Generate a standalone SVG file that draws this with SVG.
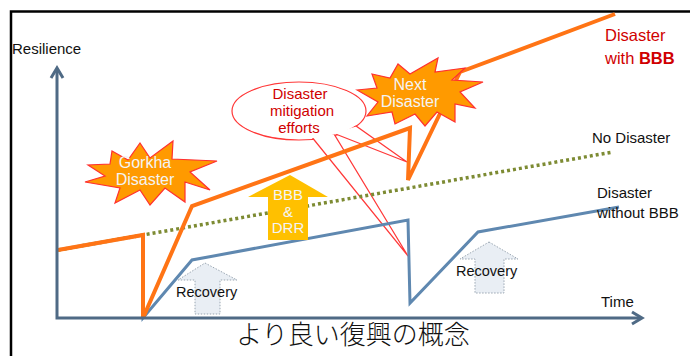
<svg xmlns="http://www.w3.org/2000/svg" width="690" height="356" viewBox="0 0 690 356">
<style>
.lbl{font-family:"Liberation Sans",Arial,sans-serif;font-size:15px;fill:#111}
.red{fill:#D00000}
.wt{font-family:"Liberation Sans",Arial,sans-serif;font-size:15px;fill:#F4F4F4;text-anchor:middle}
.big{font-size:16px}
.rl{font-size:16.5px}
.rc{font-size:14.5px}
.ctr{text-anchor:middle}
.axis{fill:none;stroke:#4F6A85;stroke-width:3;stroke-linejoin:miter}
.star{fill:#FF9A00;stroke:#FF3030;stroke-width:1.2;stroke-linejoin:miter}
.rec{fill:#E9EEF4;stroke:#9AA6B2;stroke-width:1;stroke-dasharray:1.5 1.5}
.callout{fill:#FFFFFF;stroke:#FF3838;stroke-width:1.2}
</style>
<rect x="0" y="0" width="690" height="356" fill="#FFFFFF"/>
<g id="frame" fill="none" stroke="#000" stroke-width="2.5">
  <polyline points="11,356 11,11.5 690,11.5"/>
</g>
<g id="callout">
  <ellipse class="callout" cx="299" cy="111" rx="67" ry="29"/>
  <polygon class="callout" points="333,133 407,162 356,126"/>
  <polygon class="callout" points="311,136 408,256 334,134"/>
  <ellipse cx="299" cy="111" rx="65.8" ry="27.8" fill="#FFFFFF"/>
  <text class="lbl red ctr" x="300" y="99">Disaster</text>
  <text class="lbl red ctr" x="302" y="116">mitigation</text>
  <text class="lbl red ctr" x="299" y="133">efforts</text>
</g>
<g id="recovery-left">
  <polygon class="rec" points="205,263 237,280 220,280 220,314 195,314 195,280 178,280"/>
  <text class="lbl rc" x="176" y="297">Recovery</text>
</g>
<g id="recovery-right">
  <polygon class="rec" points="489,242 518,259 504,259 504,293 475,293 475,259 460,259"/>
  <text class="lbl rc" x="456" y="276">Recovery</text>
</g>
<g id="connectors">
  <polyline points="58,250 143,235 143,318 192,260 408,220 410,303 478,232 619,207" fill="none" stroke="#5F88B0" stroke-width="3" stroke-linejoin="miter"/>
  <line x1="58" y1="250" x2="613" y2="152" stroke="#7D8B33" stroke-width="3.5" stroke-dasharray="3 3"/>
  <polyline points="58,250 143,235 143,318 192,206 410,128 408,180 460,72 615,14" fill="none" stroke="#FF7415" stroke-width="4" stroke-linejoin="miter"/>
</g>
<g id="axes">
  <polyline class="axis" points="57,69 57,318 641,318"/>
  <polyline class="axis" points="51,78 57,68 63,78"/>
  <polyline class="axis" points="632,312 642,318 632,324"/>
</g>
<g id="bbb-drr">
  <polygon points="290,175 328,197 308,197 308,240 268,240 268,197 248,197" fill="#FFC000"/>
  <text class="wt" x="288" y="200">BBB</text>
  <text class="wt" x="288" y="217">&amp;</text>
  <text class="wt" x="288" y="233">DRR</text>
</g>
<g id="gorkha">
  <polygon class="star" points="112,151 128,160 140,143 150,158 173,141 172,159 217,161 190,172 210,190 185,182 185,202 165,188 150,205 140,190 115,203 120,188 85,182 105,176 88,165 110,164"/>
  <text class="wt big" x="145" y="168">Gorkha</text>
  <text class="wt big" x="145" y="185">Disaster</text>
</g>
<g id="next-disaster">
  <polygon class="star" points="357,90 377,88 372,74 390,78 398,64 410,74 438,58 435,72 465,68 452,80 483,82 460,92 475,108 455,104 455,122 437,112 425,126 415,114 395,124 392,112 367,116 378,102"/>
  <text class="wt big" x="410" y="90">Next</text>
  <text class="wt big" x="410" y="107">Disaster</text>
</g>
<g id="labels">
  <text class="lbl" x="12" y="54">Resilience</text>
  <text class="lbl red rl" x="605" y="41">Disaster</text>
  <text class="lbl red rl" x="605" y="64">with <tspan font-weight="bold">BBB</tspan></text>
  <text class="lbl" x="592" y="143">No Disaster</text>
  <text class="lbl" x="597" y="198">Disaster</text>
  <text class="lbl" x="597" y="218">without BBB</text>
  <text class="lbl" x="601" y="307">Time</text>
</g>
<g id="caption">
  <text x="353" y="344" text-anchor="middle" font-family="'Liberation Serif','Noto Sans CJK JP',serif" font-size="26" font-weight="300" fill="#111">より良い復興の概念</text>
</g>
</svg>
